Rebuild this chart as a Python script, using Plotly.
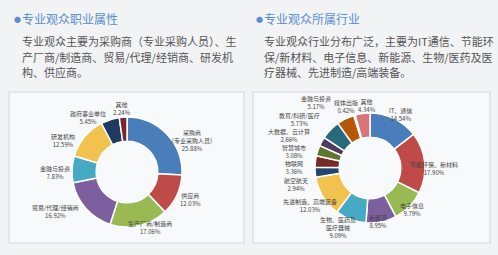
import plotly.graph_objects as go

W, H = 498, 255

left_title = "专业观众职业属性"
left_text = ["专业观众主要为采购商（专业采购人员）、生",
             "产厂商/制造商、贸易/代理/经销商、研发机",
             "构、供应商。"]
right_title = "专业观众所属行业"
right_text = ["专业观众行业分布广泛，主要为IT通信、节能环",
              "保/新材料、电子信息、新能源、生物/医药及医",
              "疗器械、先进制造/高端装备。"]

left_labels = ["采购商<br>（专业采购人员）", "供应商", "生产厂商/制造商", "贸易/代理/经销商",
               "金融与投资", "研发机构", "政府事业单位", "其他"]
left_values = [25.88, 12.03, 17.06, 16.92, 7.83, 12.59, 5.45, 2.24]
left_colors = ["#4A7EBB", "#BE4B48", "#98B954", "#7D5FA0", "#46AAC5", "#F2C24F", "#1F3A60", "#7A2630"]

right_labels = ["IT、通信", "节能环保、新材料", "电子信息", "新能源", "生物、医药及<br>医疗器械",
                "先进制造、高端装备", "航空航天", "物联网", "智慧城市", "大数据、云计算",
                "教育/科研/医疗", "金融与投资", "媒体出版", "其他"]
right_values = [14.54, 17.90, 9.79, 8.95, 9.09, 12.03, 2.94, 3.36, 3.08, 2.66, 5.73, 5.17, 0.42, 4.34]
right_colors = ["#4A7EBB", "#BE4B48", "#98B954", "#7D5FA0", "#46AAC5", "#F2C24F", "#23466F",
                "#772C2A", "#5F7530", "#4D3B62", "#276A7C", "#B65708", "#729ACA", "#D9737A"]

# label anchor points (pixels from top-left), one per category, in the same order
left_label_pos = [(192, 140), (190, 199), (150, 227), (55, 212), (55, 172), (63, 140), (88, 117), (122, 108)]
right_label_pos = [(400, 115), (434, 168), (412, 209), (378, 221), (338, 227), (310, 205), (296, 184),
                   (294, 167), (294, 151), (289, 135), (299, 119), (316, 102), (346, 107), (367, 106)]

fig = go.Figure()

def px_dom(cx, cy, r):
    return dict(x=[(cx - r) / W, (cx + r) / W], y=[(H - cy - r) / H, (H - cy + r) / H])

font_cjk = "Noto Sans CJK SC"

for labels, values, colors, center in [(left_labels, left_values, left_colors, (127, 172)),
                                       (right_labels, right_values, right_colors, (370, 168))]:
    fig.add_trace(go.Pie(
        labels=labels, values=values, sort=False, direction="clockwise", rotation=0,
        hole=0.56, marker=dict(colors=colors, line=dict(color="white", width=1.5)),
        textinfo="none", domain=px_dom(center[0], center[1], 55),
        showlegend=False, hoverinfo="label+value"))

shapes = []
for x0, x1 in [(9, 244), (253, 490)]:
    shapes.append(dict(type="rect", xref="paper", yref="paper",
                       x0=x0 / W, x1=x1 / W, y0=(H - 243) / H, y1=(H - 92) / H,
                       line=dict(color="#D3DCE6", width=1.2), fillcolor="#F8F9FA", layer="below"))

ann = []
for tx, title, body in [(12, left_title, left_text), (254, right_title, right_text)]:
    ann.append(dict(text="●", x=tx / W, y=(H - 19) / H, xref="paper", yref="paper",
                    xanchor="left", yanchor="middle", showarrow=False,
                    font=dict(size=7, color="#5A8FCF", family=font_cjk)))
    ann.append(dict(text=title, x=(tx + 8) / W, y=(H - 19) / H, xref="paper", yref="paper",
                    xanchor="left", yanchor="middle", showarrow=False,
                    font=dict(size=12, color="#5A8FCF", family=font_cjk)))
    for i, line in enumerate(body):
        ann.append(dict(text=line, x=(tx + 8) / W, y=(H - (41.5 + 15 * i)) / H, xref="paper", yref="paper",
                        xanchor="left", yanchor="middle", showarrow=False,
                        font=dict(size=11, color="#555", family=font_cjk)))

for labels, values, pos in [(left_labels, left_values, left_label_pos),
                            (right_labels, right_values, right_label_pos)]:
    for lab, v, (x, y) in zip(labels, values, pos):
        ann.append(dict(text=f"{lab}<br>{v:.2f}%", x=x / W, y=(H - y) / H, xref="paper", yref="paper",
                        xanchor="center", yanchor="middle", showarrow=False, align="center",
                        font=dict(size=6, color="#444", family=font_cjk)))

fig.update_layout(width=W, height=H, margin=dict(l=0, r=0, t=0, b=0),
                  paper_bgcolor="#F2F3F5", plot_bgcolor="#F2F3F5",
                  shapes=shapes, annotations=ann)

fig.write_html("out.html")
